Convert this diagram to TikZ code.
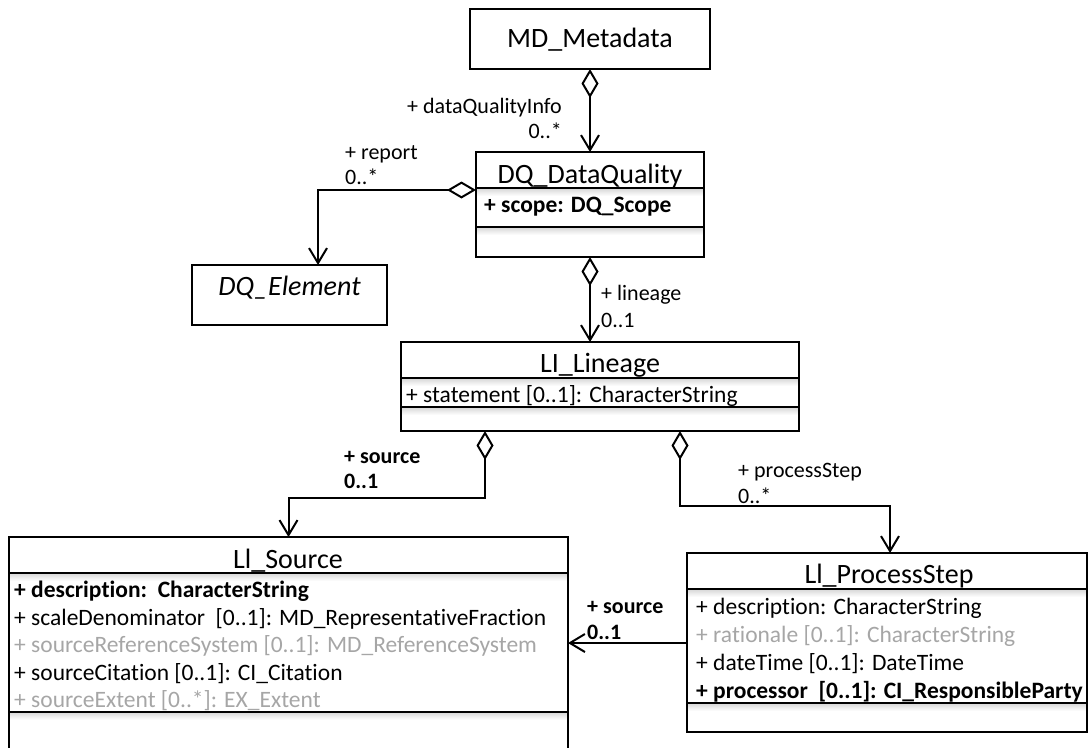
\documentclass[tikz,border=0pt]{standalone}
\usepackage{fontspec}
\setmainfont{Carlito}[Ligatures={NoCommon}]
\usetikzlibrary{arrows.meta}
\definecolor{attrgray}{RGB}{166,166,166}
\newcommand\sepl[3]{%
  \shade[top color=black!16,bottom color=white] (#1+1,#3) rectangle (#2-1,#3+8);
  \draw[line width=2pt] (#1,#3) -- (#2,#3);}
\tikzset{
  cls/.style n args={2}{draw, line width=2pt, minimum width=#1, minimum height=#2,
    inner sep=0pt, outer sep=0pt, anchor=north west},
  ttl/.style={font=\fontsize{28}{30}\selectfont, anchor=base, inner sep=0pt},
  attr/.style={font=\fontsize{23.5}{26}\selectfont, anchor=base west, inner sep=0pt},
  battr/.style={font=\fontsize{23.5}{26}\selectfont\bfseries, anchor=base west, inner sep=0pt},
  gattr/.style={attr, text=attrgray},
  lbl/.style={font=\fontsize{22}{24}\selectfont, anchor=base west, inner sep=0pt},
  blbl/.style={font=\fontsize{22}{24}\selectfont\bfseries, anchor=base west, inner sep=0pt},
  conn/.style={line width=2pt},
  agg/.style={conn, {Diamond[open,length=29pt,width=17pt]}-{Straight Barb[length=15pt,width=18pt]}},
  nav/.style={conn, -{Straight Barb[length=15pt,width=18pt]}}
}
\begin{document}
\begin{tikzpicture}[x=1pt,y=-1pt]
\useasboundingbox (0,0) rectangle (1089,747);
\clip (0,0) rectangle (1089,747);

% MD_Metadata
\node[cls={240pt}{60pt}] (md) at (470,9) {};
\node[ttl] (mdt) at (590,47) {MD\_Metadata};

% DQ_DataQuality
\sepl{476}{704}{188}
\sepl{476}{704}{227}
\node[cls={228pt}{105pt}] (dq) at (476,152) {};
\node[ttl] (dqt) at (590,183) {DQ\_DataQuality};
\node[battr] (dqa) at (484,212) {+ scope: DQ\_Scope};

% DQ_Element
\node[cls={195pt}{60pt}] (dqe) at (192,265) {};
\node[ttl, font=\fontsize{28}{30}\selectfont\itshape] (dqet) at (289.5,295) {DQ\_Element};

% LI_Lineage
\sepl{401}{799}{378}
\sepl{401}{799}{407}
\node[cls={398pt}{89pt}] (li) at (401,342) {};
\node[ttl] (lit) at (600,372) {LI\_Lineage};
\node[attr] (lia) at (406,402) {+ statement [0..1]: CharacterString};

% LI_Source
\sepl{9}{568}{573}
\sepl{9}{568}{712}
\node[cls={559pt}{260pt}] (src) at (9,537) {};
\node[ttl] (srct) at (288,568) {Ll\_Source};
\node[battr] (srca1) at (14,597) {+ description:\ \ CharacterString};
\node[attr]  (srca2) at (14,625) {+ scaleDenominator\ \ [0..1]: MD\_RepresentativeFraction};
\node[gattr] (srca3) at (14,652) {+ sourceReferenceSystem [0..1]: MD\_ReferenceSystem};
\node[attr]  (srca4) at (14,680) {+ sourceCitation [0..1]: CI\_Citation};
\node[gattr] (srca5) at (14,707) {+ sourceExtent [0..*]: EX\_Extent};

% LI_ProcessStep
\sepl{687}{1087}{589}
\sepl{687}{1087}{703}
\node[cls={400pt}{179pt}] (ps) at (687,553) {};
\node[ttl] (pst) at (889,583) {Ll\_ProcessStep};
\node[attr]  (psa1) at (696,614) {+ description: CharacterString};
\node[gattr] (psa2) at (696,642) {+ rationale [0..1]: CharacterString};
\node[attr]  (psa3) at (696,670) {+ dateTime [0..1]: DateTime};
\node[battr] (psa4) at (696,698) {+ processor\ \ [0..1]: CI\_ResponsibleParty};

% connectors
\draw[agg] (md.south) -- (dq.north);
\node[lbl, anchor=base east] (l1a) at (562,113) {+ dataQualityInfo};
\node[lbl, anchor=base east] (l1b) at (562,138) {0..*};

\draw[agg] (dq.west |- 0,190) -| ([xshift=28.5pt]dqe.north);
\node[lbl] (l2a) at (345,159) {+ report};
\node[lbl] (l2b) at (345,184) {0..*};

\draw[agg] (dq.south) -- (li.north -| dq.south);
\node[lbl] (l3a) at (601,300) {+ lineage};
\node[lbl] (l3b) at (601,327) {0..1};

\draw[agg] (li.south -| 485,0) -- (485,498) -| (src.north);
\node[blbl] (l4a) at (344,463) {+ source};
\node[blbl] (l4b) at (344,488) {0..1};

\draw[agg] (li.south -| 680,0) -- (680,506) -| ([xshift=3pt]ps.north);
\node[lbl] (l5a) at (738,477) {+ processStep};
\node[lbl] (l5b) at (738,503) {0..*};

\draw[nav] (ps.west |- 0,643) -- (src.east |- 0,643);
\node[blbl] (l6a) at (587,613) {+ source};
\node[blbl] (l6b) at (587,639) {0..1};
\end{tikzpicture}
\end{document}
